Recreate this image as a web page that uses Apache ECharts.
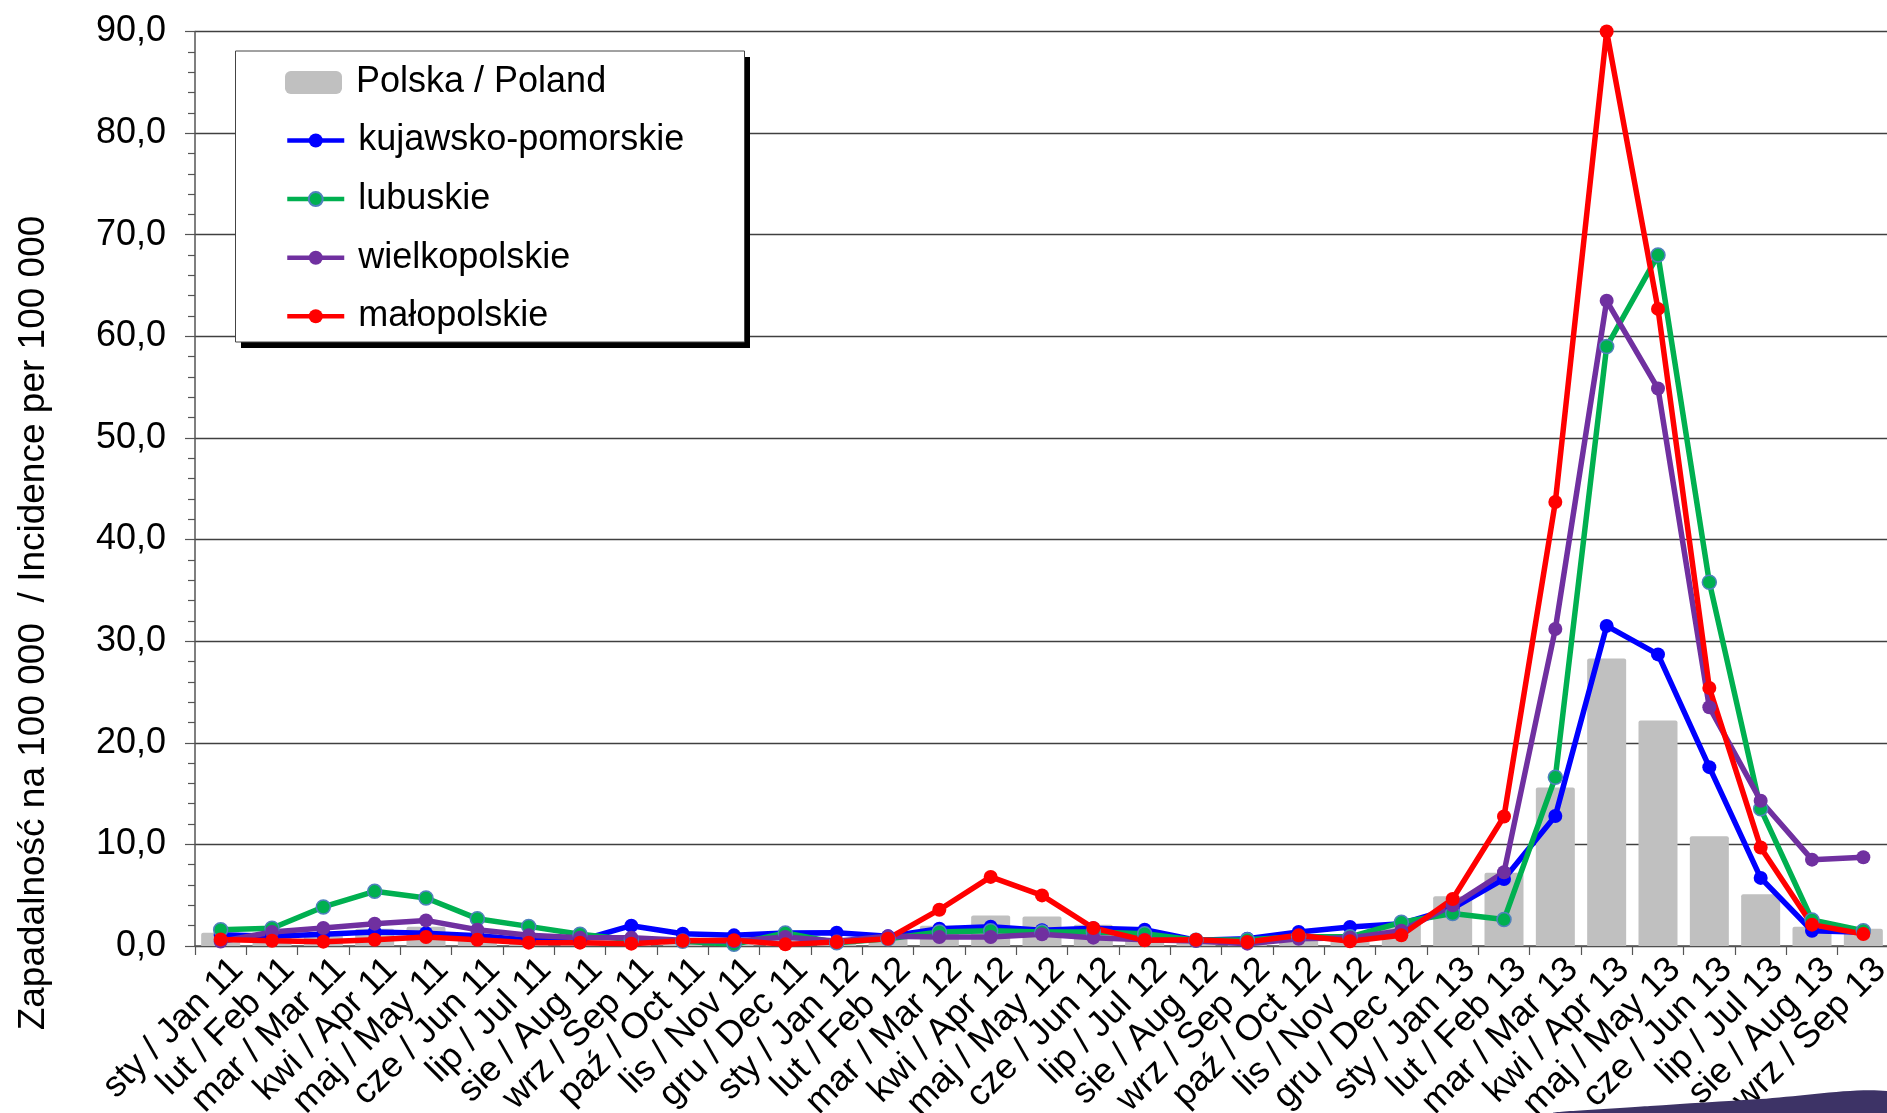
<!DOCTYPE html>
<html>
<head>
<meta charset="utf-8">
<script src="https://cdn.jsdelivr.net/npm/echarts@6/dist/echarts.min.js"></script>
<style>
html,body{margin:0;padding:0;background:#fff;}
#chart{width:1887px;height:1113px;}
</style>
</head>
<body>
<div id="chart"></div>
<script>
const categories = [
  'sty / Jan 11','lut / Feb 11','mar / Mar 11','kwi / Apr 11','maj / May 11','cze / Jun 11',
  'lip / Jul 11','sie / Aug 11','wrz / Sep 11','paź / Oct 11','lis / Nov 11','gru / Dec 11',
  'sty / Jan 12','lut / Feb 12','mar / Mar 12','kwi / Apr 12','maj / May 12','cze / Jun 12',
  'lip / Jul 12','sie / Aug 12','wrz / Sep 12','paź / Oct 12','lis / Nov 12','gru / Dec 12',
  'sty / Jan 13','lut / Feb 13','mar / Mar 13','kwi / Apr 13','maj / May 13','cze / Jun 13',
  'lip / Jul 13','sie / Aug 13','wrz / Sep 13'
];
const polska = [1.3,1.1,1.2,1.7,1.9,1.3,0.7,0.5,0.5,0.6,0.6,0.7,0.8,1.0,2.0,3.0,2.9,2.1,1.2,0.8,0.5,0.6,1.1,2.3,4.9,7.2,15.6,28.3,22.2,10.8,5.1,1.9,1.7];
const kujawskoPomorskie = [1.1,0.95,1.15,1.38,1.25,1.0,0.6,0.55,2.0,1.2,1.05,1.28,1.3,0.95,1.7,1.9,1.55,1.75,1.6,0.56,0.72,1.38,1.87,2.2,3.7,6.6,12.8,31.5,28.7,17.6,6.7,1.5,1.35];
const lubuskie = [1.6,1.75,3.84,5.38,4.72,2.69,1.93,1.15,0.62,0.46,0.16,1.28,0.33,0.72,1.38,1.5,1.38,1.38,1.21,0.56,0.62,0.9,0.9,2.33,3.2,2.6,16.6,59.0,68.0,35.8,13.5,2.56,1.5];
const wielkopolskie = [0.45,1.38,1.77,2.2,2.52,1.6,1.05,0.82,0.82,0.56,0.46,0.89,0.46,0.95,0.89,0.89,1.15,0.82,0.62,0.5,0.23,0.72,0.8,1.5,4.0,7.26,31.2,63.5,54.86,23.5,14.3,8.5,8.74];
const malopolskie = [0.65,0.52,0.43,0.62,0.89,0.62,0.33,0.33,0.23,0.52,0.56,0.16,0.39,0.72,3.57,6.8,4.98,1.77,0.56,0.62,0.4,1.05,0.46,1.05,4.63,12.74,43.7,90.0,62.7,25.4,9.7,2.1,1.18];
const yTicks = {min: 0, max: 90, interval: 10};
const yAxisTitle = 'Zapadalność na 100 000  / Incidence per 100 000';

const FONT = 'Liberation Sans, Arial, sans-serif';
const chart = echarts.init(document.getElementById('chart'), null, {renderer: 'canvas'});

function lineSeries(name, data, color, border) {
  return {
    name: name, type: 'line', data: data,
    symbol: 'circle', symbolSize: 14,
    lineStyle: {color: color, width: 5.5},
    itemStyle: {color: color, borderColor: border || color, borderWidth: border ? 1.5 : 0},
    emphasis: {disabled: true}
  };
}

chart.setOption({
  animation: false,
  backgroundColor: '#ffffff',
  grid: {left: 195, right: -2, top: 31.5, bottom: 167, containLabel: false, outerBoundsMode: 'none'},
  xAxis: {
    type: 'category', data: categories,
    axisLine: {lineStyle: {color: '#555', width: 1.5}},
    axisTick: {show: true, inside: false, length: 9, lineStyle: {color: '#555', width: 1.2}},
    axisLabel: {interval: 0, rotate: 45, fontSize: 36, fontFamily: FONT, color: '#000', margin: 1,
      verticalAlign: 'top', padding: [6, 0, 0, 0]},
    splitLine: {show: false}
  },
  yAxis: {
    type: 'value', min: yTicks.min, max: yTicks.max, interval: yTicks.interval,
    axisLine: {show: true, lineStyle: {color: '#555', width: 1.5}},
    axisTick: {show: true, inside: false, length: 10, lineStyle: {color: '#555', width: 1.2}},
    minorTick: {show: true, splitNumber: 5, length: 7, lineStyle: {color: '#555', width: 1.2}},
    axisLabel: {fontSize: 36, fontFamily: FONT, color: '#000', margin: 29,
      formatter: v => v.toFixed(1).replace('.', ',')},
    splitLine: {show: true, lineStyle: {color: '#404040', width: 1.3}}
  },
  legend: [
    {
      data: [{name: 'Polska / Poland', icon: 'roundRect'}],
      left: 285, top: 64.5, padding: 0,
      itemWidth: 57, itemHeight: 23,
      textStyle: {fontSize: 36, fontFamily: FONT, color: '#000', padding: [0, 0, 0, 9]},
      selectedMode: false
    },
    {
      data: ['kujawsko-pomorskie', 'lubuskie', 'wielkopolskie', 'małopolskie'],
      orient: 'vertical', left: 285, top: 122.5, padding: 0, itemGap: 22.6,
      itemWidth: 57, itemHeight: 17.5,
      lineStyle: {width: 4.5},
      textStyle: {fontSize: 36, fontFamily: FONT, color: '#000', padding: [0, 0, 0, 9]},
      selectedMode: false
    }
  ],
  graphic: [
    {type: 'rect', z: 3, shape: {x: 241, y: 57, width: 509, height: 291}, style: {fill: '#000'}},
    {type: 'rect', z: 3, shape: {x: 235.5, y: 51, width: 509, height: 291}, style: {fill: '#fff', stroke: '#444', lineWidth: 1}},
    {type: 'polygon', z: 3, shape: {points: [[1555,1113],[1650,1106],[1760,1099],[1887,1091],[1887,1113]], smooth: 0.3}, style: {fill: '#3d3366'}},
    {type: 'text', z: 3, x: 34, y: 623, rotation: Math.PI / 2,
      style: {text: yAxisTitle, fontSize: 37, fontFamily: FONT, fill: '#000', align: 'center', verticalAlign: 'middle'}}
  ],
  series: [
    {
      name: 'Polska / Poland', type: 'bar', data: polska, barWidth: 39,
      itemStyle: {color: '#C0C0C0', borderRadius: [2, 2, 0, 0]},
      emphasis: {disabled: true}
    },
    lineSeries('kujawsko-pomorskie', kujawskoPomorskie, '#0000FF'),
    lineSeries('lubuskie', lubuskie, '#00B050', '#4F81BD'),
    lineSeries('wielkopolskie', wielkopolskie, '#7030A0'),
    lineSeries('małopolskie', malopolskie, '#FF0000')
  ]
});
</script>
</body>
</html>
